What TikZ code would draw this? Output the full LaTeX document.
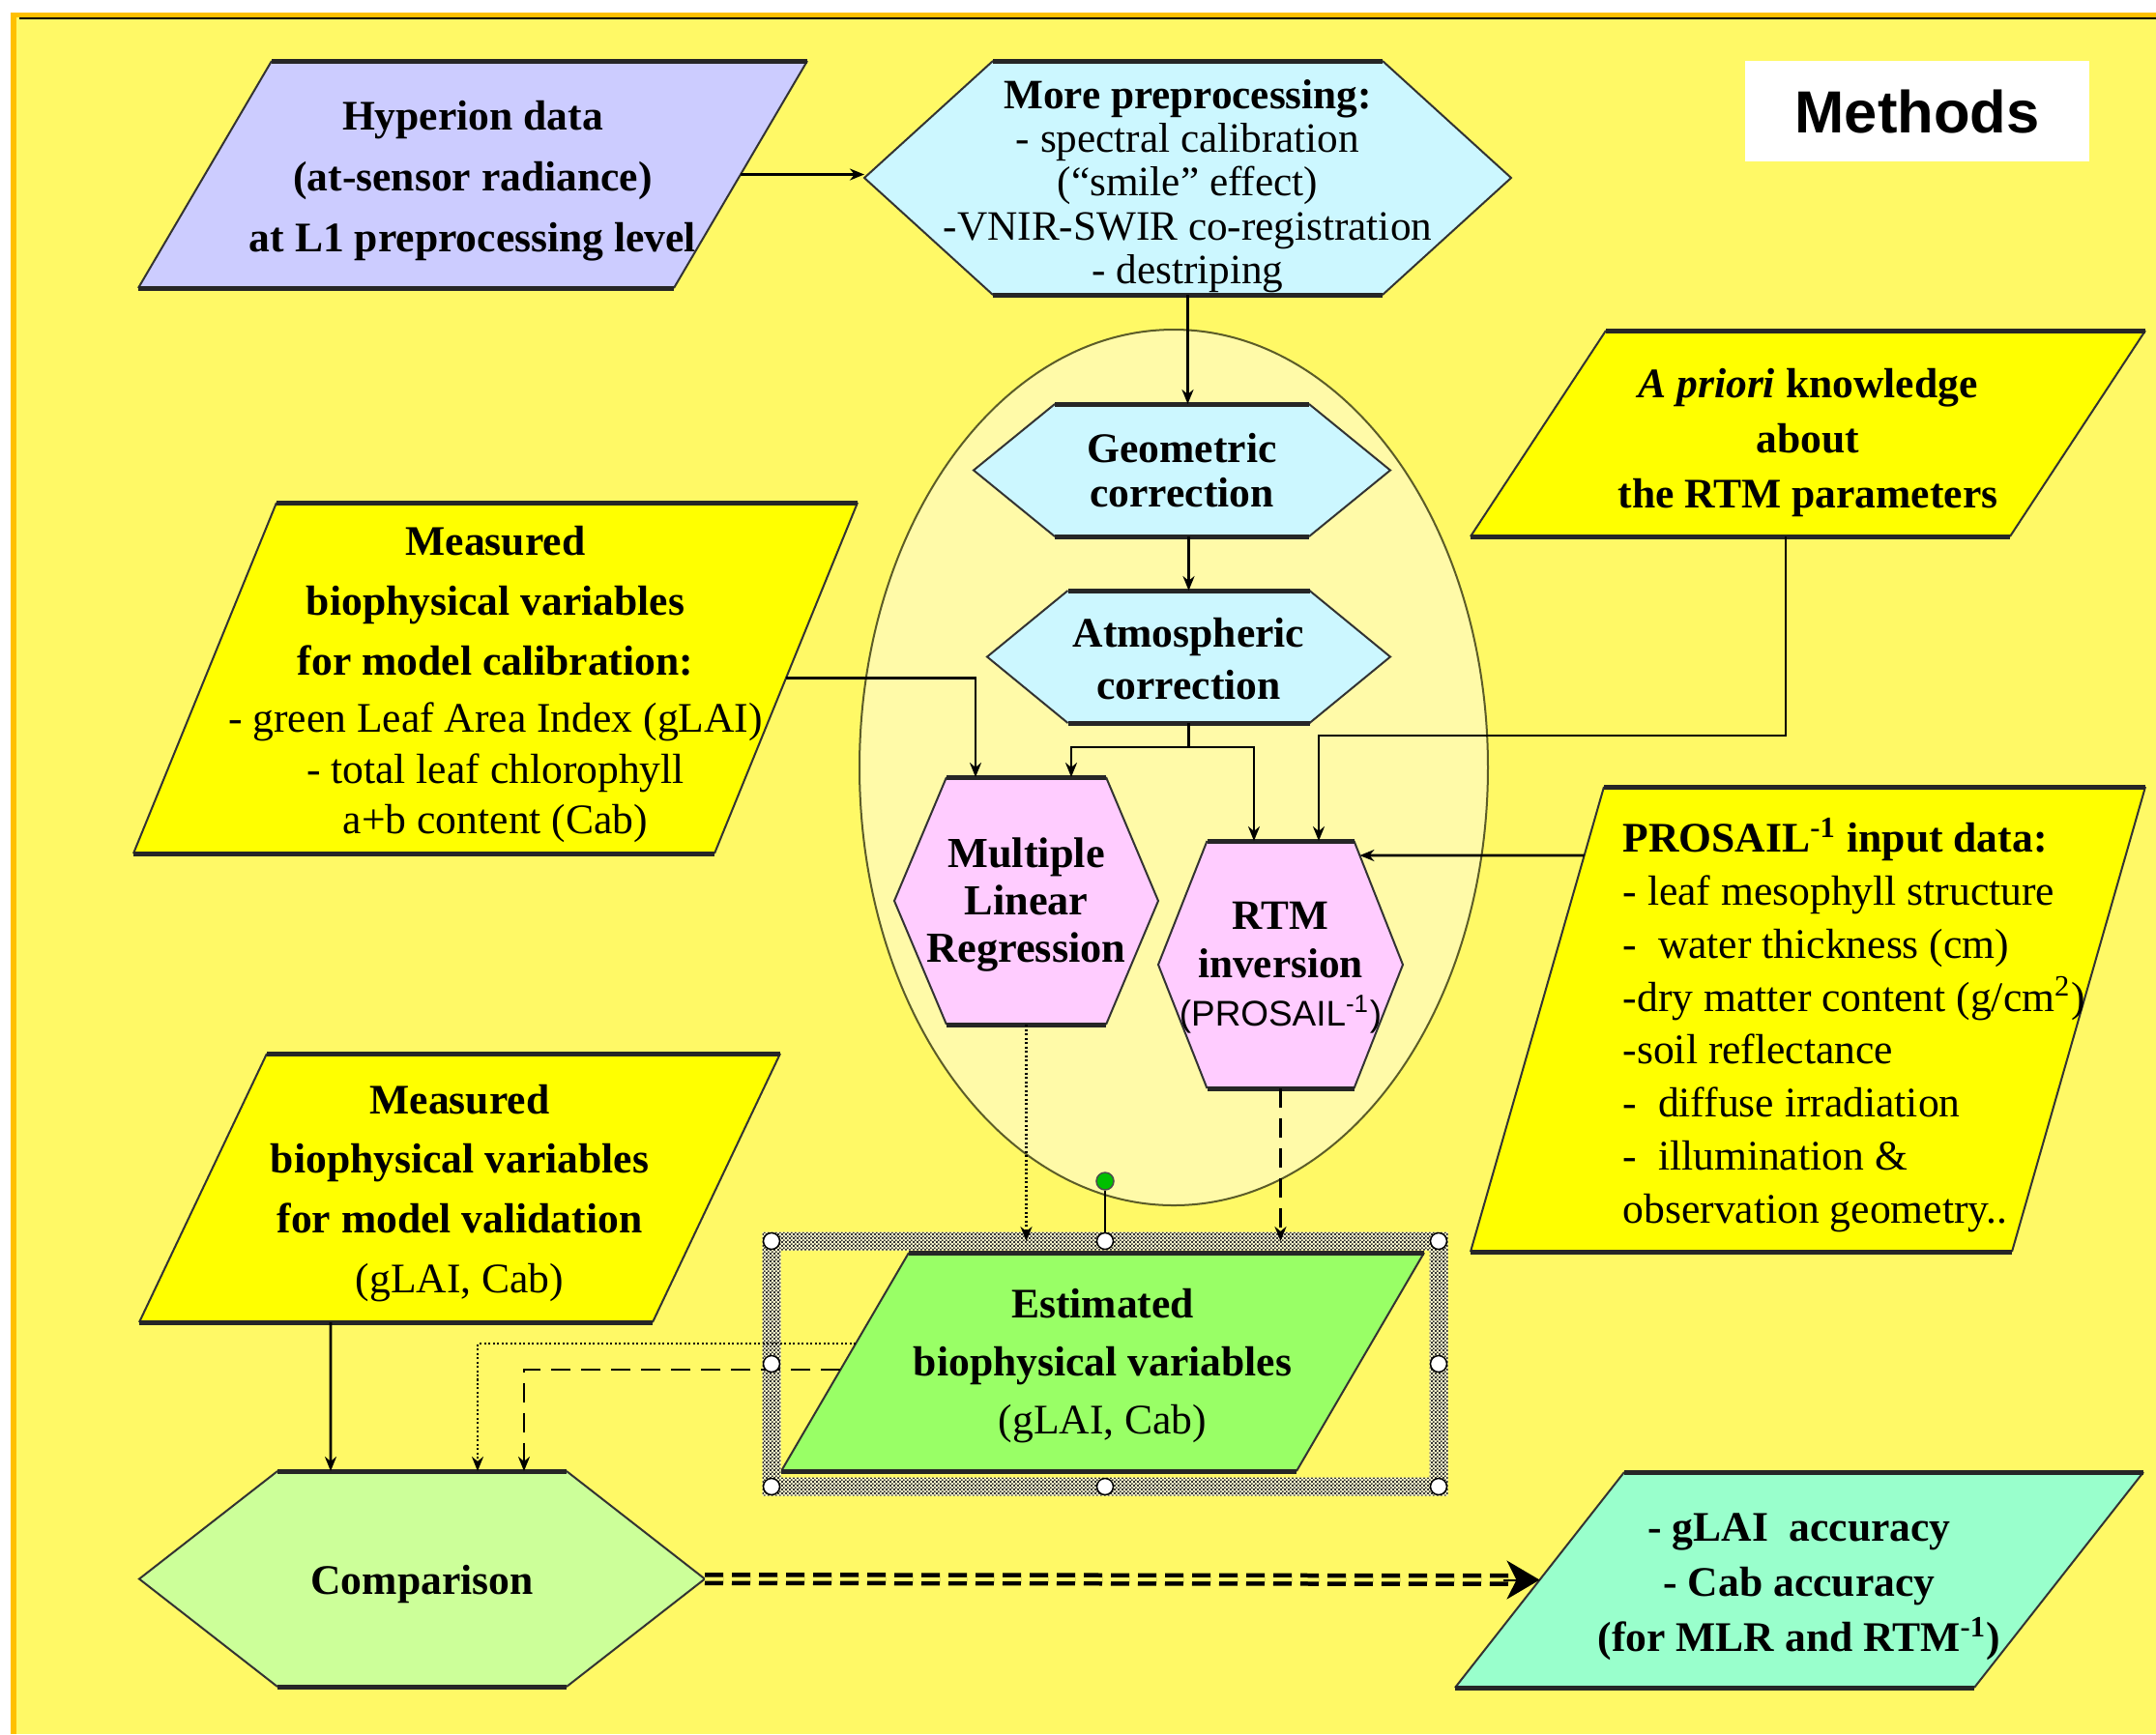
\documentclass[tikz,border=0pt]{standalone}
\usepackage{fontspec}
\setmainfont{Liberation Serif}
\setsansfont{Liberation Sans}
\usetikzlibrary{arrows.meta,patterns}
\pgfdeclarelayer{bg}
\pgfsetlayers{bg,main}

\definecolor{bgyellow}{HTML}{FFF966}
\definecolor{ellyellow}{HTML}{FFFAA8}
\definecolor{ellrim}{HTML}{5C5C28}
\definecolor{bordorange}{HTML}{FFC000}
\definecolor{hypblue}{HTML}{CCCCFF}
\definecolor{precyan}{HTML}{CCF7FF}
\definecolor{boxyellow}{HTML}{FFFF00}
\definecolor{mauve}{HTML}{FFCCFF}
\definecolor{estgreen}{HTML}{99FF66}
\definecolor{cmpgreen}{HTML}{CCFF99}
\definecolor{accgreen}{HTML}{99FFCC}

% fine checker for the selection frame
\pgfdeclarepatternformonly{checkdots}{\pgfpointorigin}{\pgfpoint{1.2pt}{1.2pt}}{\pgfpoint{1.2pt}{1.2pt}}{%
  \pgfpathrectangle{\pgfpointorigin}{\pgfpoint{0.6pt}{0.6pt}}%
  \pgfpathrectangle{\pgfpoint{0.6pt}{0.6pt}}{\pgfpoint{0.6pt}{0.6pt}}%
  \pgfusepath{fill}}

% strut that pushes a text block down
\newcommand{\topfix}[1]{\rule{0pt}{#1pt}}

% parallelogram round a node: node, slant, fill
\newcommand{\slantbox}[3]{%
  \fill[#3] ([xshift=#2]#1.north west) -- (#1.north east) -- ([xshift=-#2]#1.south east) -- (#1.south west) -- cycle;
  \draw[boxside] ([xshift=#2]#1.north west) -- (#1.south west)
                 ([xshift=-#2]#1.south east) -- (#1.north east);
  \draw[boxrim] ([xshift=#2]#1.north west) -- (#1.north east)
                (#1.south west) -- ([xshift=-#2]#1.south east);
}
% hexagon round a node: node, corner cut, fill
\newcommand{\hexbox}[3]{%
  \fill[#3] (#1.west) -- ([xshift=#2]#1.north west) -- ([xshift=-#2]#1.north east) -- (#1.east)
            -- ([xshift=-#2]#1.south east) -- ([xshift=#2]#1.south west) -- cycle;
  \draw[boxside] ([xshift=#2]#1.north west) -- (#1.west) -- ([xshift=#2]#1.south west)
                 ([xshift=-#2]#1.north east) -- (#1.east) -- ([xshift=-#2]#1.south east);
  \draw[boxrim] ([xshift=#2]#1.north west) -- ([xshift=-#2]#1.north east)
                ([xshift=#2]#1.south west) -- ([xshift=-#2]#1.south east);
}

\begin{document}
\begin{tikzpicture}[
    box/.style={inner sep=0pt, outer sep=0pt, align=center},
    boxside/.style={draw=black!80, line width=0.02cm},
    boxrim/.style={draw=black!85, line width=0.05cm},
    conn/.style={draw=black, line width=0.028cm, -{Stealth[length=0.15cm,width=0.12cm]}},
    dotconn/.style={conn, line width=0.022cm, dash pattern=on 0.02cm off 0.025cm},
    dashconn/.style={conn, dash pattern=on 0.2cm off 0.11cm},
    bigline/.style={draw=black, line width=0.045cm, double=bgyellow, double distance=0.04cm,
                    dash pattern=on 0.19cm off 0.09cm, shorten >=0.3cm},
    bigtip/.style={draw=black, line width=0.02cm, -{Stealth[length=0.34cm,width=0.4cm,inset=0.1cm]}},
    handle/.style={draw=black, fill=white, line width=0.015cm},
    rotdot/.style={circle, draw=black!70, fill=green!75!black, line width=0.015cm, minimum size=0.18cm, inner sep=0pt}
]
    \useasboundingbox (0,0) rectangle (22.30,-17.94);

    % Frame and group
    \begin{pgfonlayer}{bg}
        \fill[white] (0,0) rectangle (22.30,-17.94);
        \fill[bgyellow] (0.14,-0.15) rectangle (22.30,-17.94);
        \draw[bordorange, line width=0.05cm] (0.14,-17.94) -- (0.14,-0.15) -- (22.30,-0.15);
        \draw[black, line width=0.02cm] (0.2,-0.185) -- (22.30,-0.185);
        \draw[draw=ellrim, line width=0.02cm, fill=ellyellow] (12.14,-7.94) ellipse [x radius=3.25, y radius=4.53];
    \end{pgfonlayer}

    % Boxes
    \node (hyp) [box, minimum width=6.92cm, minimum height=2.35cm, font=\fontsize{12.4}{17.9}\selectfont\bfseries]
        at (4.89,-1.805) {\topfix{12.5}Hyperion data\\(at-sensor radiance)\\at L1 preprocessing level};
    \node (pre) [box, minimum width=6.69cm, minimum height=2.42cm, font=\fontsize{12.3}{12.9}\selectfont]
        at (12.285,-1.84) {\topfix{13.3}\textbf{More preprocessing:}\\- spectral calibration\\(``smile'' effect)\\-VNIR-SWIR co-registration\\- destriping};
    \node (meth) [box, fill=white, minimum width=3.56cm, minimum height=1.04cm, font=\fontsize{17.5}{20}\selectfont\sffamily\bfseries]
        at (19.83,-1.15) {Methods};
    \node (cal) [box, minimum width=7.49cm, minimum height=3.63cm, font=\fontsize{12.4}{15}\selectfont]
        at (5.125,-7.015) {\topfix{12.5}\textbf{Measured}\\[2.6pt]\textbf{biophysical variables}\\[2.6pt]\textbf{for model calibration:}\\[1.8pt]
        - green Leaf Area Index (gLAI)\\- total leaf chlorophyll\\a+b content (Cab)};
    \node (apr) [box, minimum width=6.98cm, minimum height=2.13cm, font=\fontsize{12.4}{16.2}\selectfont\bfseries]
        at (18.70,-4.485) {\topfix{14.1}\textit{A priori} knowledge\\about\\the RTM parameters};
    \node (geo) [box, minimum width=4.31cm, minimum height=1.37cm, font=\fontsize{12.4}{13.1}\selectfont\bfseries]
        at (12.225,-4.865) {Geometric\\correction};
    \node (atm) [box, minimum width=4.17cm, minimum height=1.37cm, font=\fontsize{12.4}{15.4}\selectfont\bfseries]
        at (12.295,-6.795) {\topfix{10}Atmospheric\\correction};
    \node (mlr) [box, minimum width=2.73cm, minimum height=2.56cm, font=\fontsize{12.6}{14}\selectfont\bfseries]
        at (10.615,-9.32) {\topfix{10.9}Multiple\\Linear\\Regression};
    \node (rtm) [box, minimum width=2.53cm, minimum height=2.56cm, font=\fontsize{12.3}{14.2}\selectfont\bfseries]
        at (13.245,-9.98) {\topfix{10}RTM\\inversion\\{\sffamily\mdseries\fontsize{10.5}{14.2}\selectfont(PROSAIL\textsuperscript{-1})}};
    \node (pro) [box, minimum width=6.98cm, minimum height=4.81cm] at (18.70,-10.545) {};
    \node (protxt) [inner sep=0pt, anchor=west, align=left, font=\fontsize{12.4}{15.6}\selectfont]
        at ([shift={(1.57,-0.06)}]pro.west) {\textbf{PROSAIL\textsuperscript{-1} input data:}\\- leaf mesophyll structure\\-\ \ water thickness (cm)\\
        -dry matter content (g/cm\textsuperscript{2})\\-soil reflectance\\-\ \ diffuse irradiation\\-\ \ illumination \&\\observation geometry..};
    \node (val) [box, minimum width=6.63cm, minimum height=2.78cm, font=\fontsize{12.4}{17.6}\selectfont]
        at (4.755,-12.29) {\topfix{11.7}\textbf{Measured}\\\textbf{biophysical variables}\\\textbf{for model validation}\\(gLAI, Cab)};
    \node (est) [box, minimum width=6.65cm, minimum height=2.26cm, font=\fontsize{12.4}{17}\selectfont]
        at (11.405,-14.09) {\topfix{10.9}\textbf{Estimated}\\\textbf{biophysical variables}\\(gLAI, Cab)};
    \node (cmp) [box, minimum width=5.85cm, minimum height=2.23cm, font=\fontsize{12.4}{15}\selectfont\bfseries]
        at (4.365,-16.335) {\topfix{11.7}Comparison};
    \node (acc) [box, minimum width=7.12cm, minimum height=2.23cm, font=\fontsize{12.4}{16.2}\selectfont\bfseries]
        at (18.61,-16.345) {\topfix{12.5}- gLAI\ \ accuracy\\- Cab accuracy\\(for MLR and RTM\textsuperscript{-1})};
    \node (sel) [box, minimum width=6.90cm, minimum height=2.54cm] at (11.43,-14.11) {};

    % Outlines under the text
    \begin{pgfonlayer}{bg}
        \slantbox{hyp}{1.38cm}{hypblue}
        \hexbox{pre}{1.33cm}{precyan}
        \slantbox{cal}{1.48cm}{boxyellow}
        \slantbox{apr}{1.40cm}{boxyellow}
        \hexbox{geo}{0.84cm}{precyan}
        \hexbox{atm}{0.835cm}{precyan}
        \hexbox{mlr}{0.54cm}{mauve}
        \hexbox{rtm}{0.505cm}{mauve}
        \slantbox{pro}{1.38cm}{boxyellow}
        \slantbox{val}{1.32cm}{boxyellow}
        \slantbox{est}{1.32cm}{estgreen}
        \hexbox{cmp}{1.43cm}{cmpgreen}
        \slantbox{acc}{1.75cm}{accgreen}
    \end{pgfonlayer}

    % Selection frame
    \fill[pattern=checkdots, pattern color=black!80, even odd rule,
          preaction={fill=white!70!bgyellow, even odd rule}]
        ([shift={(-0.095,0.095)}]sel.north west) rectangle ([shift={(0.095,-0.095)}]sel.south east)
        ([shift={(0.095,-0.095)}]sel.north west) rectangle ([shift={(-0.095,0.095)}]sel.south east);

    % Connectors
    \draw[conn] ([xshift=-0.69cm]hyp.east) -- (pre.west |- hyp.east);
    \draw[conn] (pre.south) -- (pre.south |- geo.north);
    \draw[conn] (atm.north |- geo.south) -- (atm.north);
    \draw[conn] (atm.south) -- ++(0,-0.25) -| ([xshift=0.465cm]mlr.north);
    \draw[conn] (atm.south) -- ++(0,-0.25) -| ([xshift=-0.275cm]rtm.north);
    \draw[conn] ([xshift=-0.74cm]cal.east) -| ([xshift=-0.525cm]mlr.north);
    \draw[conn] ([xshift=-0.23cm]apr.south) -- ++(0,-2.06) -| ([xshift=0.395cm]rtm.north);
    \draw[conn] ([shift={(1.176,1.695)}]pro.west) -- ([shift={(-0.446,-0.15)}]rtm.north east);
    \draw[dotconn] (mlr.south) -- (mlr.south |- sel.north);
    \draw[dashconn] (rtm.south) -- (rtm.south |- sel.north);
    \draw[dotconn] ([shift={(0.77,0.19)}]est.west) -| ([xshift=0.575cm]cmp.north);
    \draw[dashconn] ([shift={(0.613,-0.08)}]est.west) -| ([xshift=1.055cm]cmp.north);
    \draw[conn] ([xshift=-1.335cm]val.south) -- ([xshift=-0.945cm]cmp.north);
    \draw[bigline] (cmp.east) -- ([xshift=0.875cm]acc.west);
    \draw[bigtip] ([xshift=0.5cm]acc.west) -- ([xshift=0.875cm]acc.west);

    % Handles
    \node (rot) [rotdot] at (11.43,-12.22) {};
    \draw[black, line width=0.015cm] (rot) -- (sel.north);
    \foreach \p in {north west,north,north east,west,east,south west,south,south east}
        \filldraw[handle] (sel.\p) circle (0.085);
\end{tikzpicture}
\end{document}
